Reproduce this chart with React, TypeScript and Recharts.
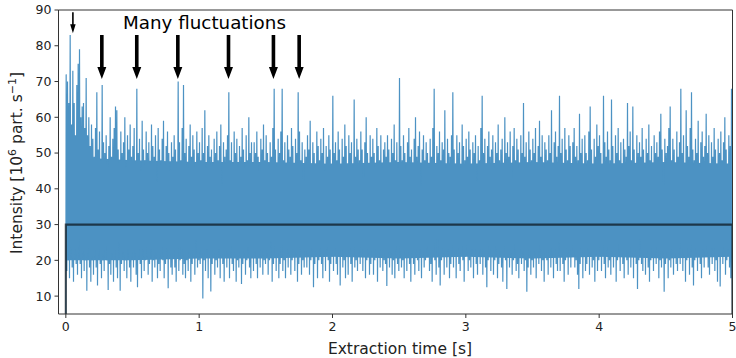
import { ComposedChart, Line, Area, XAxis, YAxis, ReferenceLine, ReferenceDot } from "recharts";

// upper extremes of the signal, one every 0.01 s
const peaks = [
  72, 70, 64, 83, 58, 73, 64, 55, 69, 75,
  79, 60, 63, 64, 57, 71, 55, 60, 52, 58,
  54, 49, 57, 67, 51, 56, 48, 69, 53, 50,
  55, 47, 52, 60, 49, 54, 57, 63, 62, 51,
  48, 56, 50, 53, 60, 46, 55, 51, 58, 49,
  52, 57, 47, 68, 50, 54, 45, 59, 51, 48,
  56, 50, 53, 47, 58, 52, 49, 55, 42, 57,
  51, 48, 54, 59, 47, 52, 56, 50, 45, 53,
  49, 55, 51, 47, 70, 53, 48, 57, 69, 50,
  54, 46, 52, 58, 49, 55, 51, 47, 56, 50,
  53, 48, 57, 50, 62, 46, 52, 55, 49, 51,
  47, 54, 50, 56, 48, 52, 58, 41, 53, 49,
  51, 55, 67, 48, 53, 47, 56, 50, 54, 46,
  52, 49, 57, 51, 46, 55, 48, 60, 50, 53,
  47, 53, 50, 56, 49, 45, 54, 51, 58, 48,
  55, 50, 46, 53, 49, 57, 68, 51, 47, 54,
  50, 56, 68, 48, 53, 46, 55, 51, 49, 57,
  52, 47, 54, 50, 67, 56, 48, 53, 42, 51,
  49, 55, 51, 59, 47, 53, 50, 46, 56, 52,
  48, 54, 50, 57, 45, 52, 49, 55, 51, 47,
  66, 50, 53, 48, 56, 51, 46, 54, 49, 58,
  52, 47, 55, 50, 53, 46, 65, 49, 54, 51,
  48, 56, 51, 43, 53, 60, 50, 47, 55, 49,
  54, 50, 47, 57, 52, 48, 55, 46, 51, 53,
  49, 55, 51, 47, 54, 50, 58, 48, 53, 46,
  71, 52, 48, 55, 50, 46, 53, 57, 49, 51,
  47, 54, 60, 49, 52, 56, 41, 51, 55, 48,
  53, 50, 46, 54, 49, 57, 68, 47, 52, 50,
  56, 48, 53, 51, 62, 46, 54, 50, 49, 55,
  67, 51, 47, 55, 50, 53, 46, 58, 52, 48,
  54, 49, 56, 51, 47, 53, 50, 55, 42, 52,
  48, 57, 66, 50, 54, 47, 52, 56, 49, 51,
  55, 46, 53, 50, 58, 48, 51, 54, 47, 60,
  50, 53, 49, 56, 43, 52, 57, 48, 54, 51,
  47, 55, 50, 64, 49, 53, 46, 56, 51, 48,
  54, 50, 57, 47, 52, 59, 49, 55, 46, 53,
  51, 48, 55, 50, 62, 47, 53, 56, 49, 52,
  66, 50, 54, 47, 57, 51, 48, 55, 52, 46,
  53, 57, 49, 52, 48, 61, 50, 54, 47, 55,
  50, 48, 56, 63, 51, 47, 54, 49, 58, 52,
  55, 50, 47, 66, 53, 49, 56, 51, 48, 65,
  52, 47, 55, 50, 57, 48, 53, 46, 54, 51,
  49, 64, 52, 56, 48, 63, 51, 47, 55, 50,
  53, 49, 57, 51, 46, 54, 50, 58, 48, 52,
  47, 55, 50, 53, 49, 56, 61, 51, 41, 54,
  50, 52, 57, 63, 48, 54, 51, 47, 56, 49,
  53, 68, 50, 55, 47, 62, 52, 49, 57, 67,
  51, 48, 54, 50, 59, 46, 53, 56, 49, 52,
  61, 50, 55, 47, 53, 49, 57, 51, 46, 54,
  50, 56, 48, 53, 60, 51, 47, 55, 52, 68,
];

// lower extremes, in between the peaks
const dips = [
  17, 20, 15, 22, 18, 14, 21, 19, 16, 23,
  19, 15, 21, 17, 20, 11.5, 22, 18, 14, 20,
  16, 21, 18, 13, 22, 19, 15, 20, 17, 23,
  20, 11.7, 19, 16, 22, 14, 21, 18, 15, 25,
  11.5, 19, 22, 17, 20, 15, 23, 18, 14, 21,
  18, 22, 16, 12.5, 21, 19, 15, 23, 17, 20,
  21, 16, 19, 23, 14, 20, 18, 22, 15, 19,
  17, 22, 20, 15, 19, 23, 12.2, 21, 18, 16,
  22, 18, 14, 21, 17, 20, 23, 16, 19, 15,
  20, 17, 22, 14, 19, 21, 16, 26, 18, 20,
  19, 22, 9.3, 20, 17, 23, 15, 21, 11.3, 19,
  22, 16, 20, 18, 23, 15, 21, 19, 14, 22,
  18, 21, 15, 23, 19, 17, 22, 14, 20, 18,
  21, 13.4, 19, 22, 16, 20, 23, 18, 15, 21,
  17, 22, 19, 15, 21, 18, 23, 16, 20, 19,
  22, 16, 20, 25, 14, 19, 21, 17, 22, 15,
  19, 23, 17, 20, 15, 22, 18, 21, 16, 20,
  21, 17, 22, 14, 19, 23, 16, 20, 18, 22,
  18, 21, 16, 20, 23, 12.5, 19, 22, 15, 20,
  22, 19, 15, 21, 17, 23, 20, 14, 19, 21,
  17, 22, 19, 16, 21, 13, 23, 18, 20, 15,
  21, 16, 23, 19, 14, 22, 18, 20, 17, 22,
  19, 23, 17, 21, 15, 20, 22, 16, 19, 21,
  16, 20, 22, 14, 21, 18, 23, 17, 20, 19,
  12.8, 21, 18, 22, 16, 20, 15, 23, 19, 17,
  22, 18, 20, 15, 23, 17, 21, 19, 14, 22,
  19, 16, 22, 20, 17, 23, 15, 21, 18, 20,
  21, 23, 17, 19, 14, 22, 20, 16, 26, 18,
  13, 20, 22, 16, 21, 18, 23, 15, 19, 22,
  18, 21, 15, 23, 19, 17, 22, 20, 14, 21,
  22, 17, 20, 18, 23, 15, 21, 19, 16, 22,
  19, 22, 16, 21, 18, 12.5, 20, 23, 17, 21,
  16, 20, 23, 15, 19, 22, 18, 14, 21, 20,
  12, 21, 18, 22, 16, 20, 23, 17, 19, 15,
  21, 19, 22, 17, 20, 11.2, 18, 23, 16, 20,
  18, 22, 15, 21, 19, 23, 17, 20, 14, 22,
  20, 16, 23, 18, 22, 15, 21, 19, 17, 25,
  17, 21, 19, 14, 20, 22, 16, 23, 18, 21,
  22, 18, 20, 16, 12, 19, 23, 15, 21, 17,
  19, 23, 16, 21, 18, 20, 14, 22, 17, 20,
  21, 17, 22, 19, 15, 23, 18, 20, 16, 22,
  18, 22, 14, 20, 23, 17, 21, 19, 15, 21,
  20, 16, 23, 18, 21, 15, 22, 19, 12, 20,
  26, 19, 17, 21, 16, 22, 18, 14, 20, 22,
  17, 21, 19, 23, 15, 20, 18, 22, 11.2, 19,
  22, 15, 20, 18, 23, 16, 21, 19, 17, 22,
  19, 23, 17, 21, 14, 20, 22, 16, 23, 18,
  13, 20, 22, 17, 21, 19, 15, 23, 18, 21,
  21, 18, 16, 22, 19, 23, 17, 20, 14, 22,
  12.7, 21, 19, 23, 16, 20, 22, 18, 15, 17,
];

// dense core of the signal, where the trace is solid
const coreTimes = [0.002, 0.5, 1, 1.5, 2, 2.5, 3, 3.5, 4, 4.5, 4.998];
const coreLow = [20, 20, 20.5, 20.5, 21, 20.5, 21, 20.5, 21, 20.5, 21];
const coreHigh = [49, 48, 47.5, 47.5, 47, 47.5, 47, 47.5, 47, 47.5, 47];

// ideal rectangular pulse
const pulseTimes = [0, 0, 5, 5];
const pulseValues = [0, 30, 30, 0];

const xTicks = [0, 1, 2, 3, 4, 5];
const yTicks = [10, 20, 30, 40, 50, 60, 70, 80, 90];

const arrowTimes = [0.27, 0.532, 0.84, 1.22, 1.557, 1.75];
const smallArrowTime = 0.053;

const signal = [
  { t: 0, v: 0 },
  ...peaks.flatMap((p, i) => [
    { t: 0.0025 + i * 0.01, v: p },
    { t: 0.0075 + i * 0.01, v: dips[i] },
  ]),
  { t: 5, v: 0 },
];
const core = coreTimes.map((t, i) => ({ t, range: [coreLow[i], coreHigh[i]] }));
const pulse = pulseTimes.map((t, i) => ({ t, v: pulseValues[i] }));

const BLUE = "#4c92c3";
const FONT = "DejaVu Sans";

const arrowShape = (shaft: number, headW: number, headL: number) => (props: any) => {
  const x = props.x1;
  const top = Math.min(props.y1, props.y2);
  const tip = Math.max(props.y1, props.y2);
  const b = tip - headL;
  const pts = [
    [x - shaft / 2, top],
    [x + shaft / 2, top],
    [x + shaft / 2, b],
    [x + headW / 2, b],
    [x, tip],
    [x - headW / 2, b],
    [x - shaft / 2, b],
  ];
  return <polygon points={pts.map((p) => p.join(",")).join(" ")} fill="#000" />;
};

const XLabel = () => (
  <text x={400} y={354} textAnchor="middle" fontSize={15.5} fontFamily={FONT} fill="#222">
    Extraction time [s]
  </text>
);

const YLabel = () => (
  <text
    x={21.5}
    y={163}
    textAnchor="middle"
    fontSize={15.5}
    fontFamily={FONT}
    fill="#222"
    transform="rotate(-90 21.5 163)"
  >
    Intensity [10
    <tspan dy={-6} fontSize={11}>6</tspan>
    <tspan dy={6}> part. s</tspan>
    <tspan dy={-6} fontSize={11}>−1</tspan>
    <tspan dy={6}>]</tspan>
  </text>
);

export default function App() {
  return (
    <div style={{ position: "absolute", left: 0, top: 0, width: 736, height: 358 }}>
      <ComposedChart width={736} height={358} margin={{ top: 10, right: 3.5, left: 8.5, bottom: 14 }}>
        <XAxis
          type="number"
          dataKey="t"
          domain={[-0.055, 5]}
          ticks={xTicks}
          interval={0}
          allowDataOverflow
          height={30}
          stroke="#333"
          tickSize={4}
          tickMargin={4}
          tick={{ fontSize: 12.5, fill: "#222", fontFamily: FONT }}
          label={{ content: <XLabel /> }}
        />
        <YAxis
          type="number"
          domain={[5, 90]}
          ticks={yTicks}
          interval={0}
          allowDataOverflow
          width={50}
          stroke="#333"
          tickSize={4}
          tickMargin={3}
          tick={{ fontSize: 12.5, fill: "#222", fontFamily: FONT }}
          label={{ content: <YLabel /> }}
        />
        <Area
          data={core}
          dataKey="range"
          type="linear"
          stroke="none"
          fill={BLUE}
          fillOpacity={1}
          activeDot={false}
          isAnimationActive={false}
        />
        <Line
          data={signal}
          dataKey="v"
          type="linear"
          stroke={BLUE}
          strokeWidth={1.2}
          dot={false}
          activeDot={false}
          isAnimationActive={false}
        />
        <Line
          data={pulse}
          dataKey="v"
          type="linear"
          stroke="#000"
          strokeOpacity={0.62}
          strokeWidth={2.2}
          dot={false}
          activeDot={false}
          isAnimationActive={false}
        />
        <ReferenceLine y={90} stroke="#333" />
        <ReferenceLine x={5} stroke="#333" />
        {arrowTimes.map((t) => (
          <ReferenceLine
            key={t}
            segment={[{ x: t, y: 83 }, { x: t, y: 70.7 }]}
            shape={arrowShape(3.6, 9, 12)}
          />
        ))}
        <ReferenceLine
          segment={[{ x: smallArrowTime, y: 89.4 }, { x: smallArrowTime, y: 83.5 }]}
          shape={arrowShape(1.6, 5.5, 9)}
        />
        <ReferenceDot
          x={1.04}
          y={84.8}
          r={0}
          shape={(p: any) => (
            <text x={p.cx} y={p.cy} textAnchor="middle" fontSize={18.3} fontFamily={FONT} fill="#000">
              Many fluctuations
            </text>
          )}
        />
      </ComposedChart>
    </div>
  );
}
